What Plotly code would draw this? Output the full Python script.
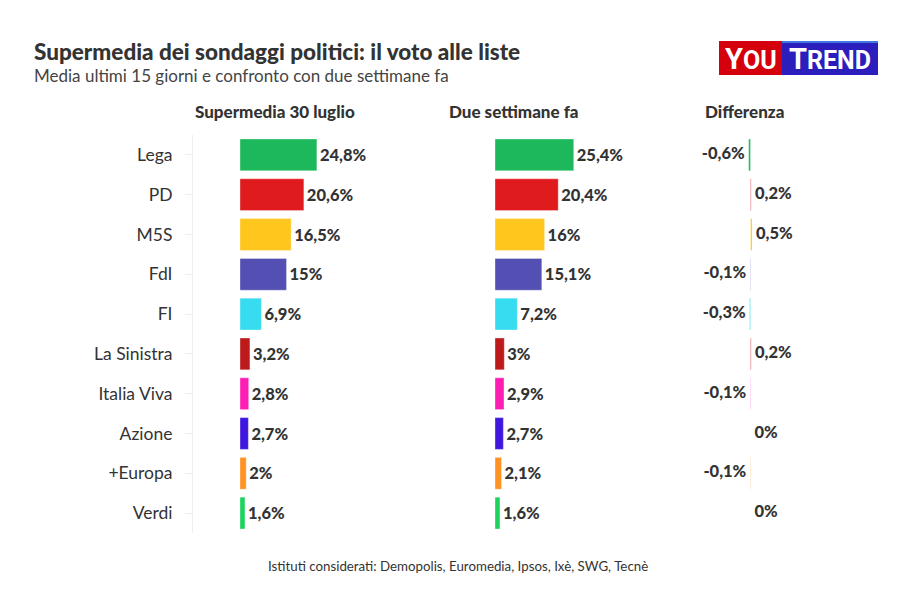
import plotly.graph_objects as go

# ---------------- data ----------------
parties = ["Lega", "PD", "M5S", "FdI", "FI", "La Sinistra", "Italia Viva",
           "Azione", "+Europa", "Verdi"]
supermedia_30_luglio = [24.8, 20.6, 16.5, 15.0, 6.9, 3.2, 2.8, 2.7, 2.0, 1.6]
due_settimane_fa = [25.4, 20.4, 16.0, 15.1, 7.2, 3.0, 2.9, 2.7, 2.1, 1.6]
differenza = [-0.6, 0.2, 0.5, -0.1, -0.3, 0.2, -0.1, 0.0, -0.1, 0.0]
party_colors = ["#1cb85b", "#df1b1e", "#ffc61e", "#5450b3", "#38dcf0",
                "#bd1a1b", "#ff1eb4", "#3f17df", "#ff9222", "#1dd35e"]

column_titles = ["Supermedia 30 luglio", "Due settimane fa", "Differenza"]
title = "Supermedia dei sondaggi politici: il voto alle liste"
subtitle = "Media ultimi 15 giorni e confronto con due settimane fa"
footer = "Istituti considerati: Demopolis, Euromedia, Ipsos, Ixè, SWG, Tecnè"

# ---------------- helpers ----------------
W, H = 900, 590
FONT = "Lato"
TXT = "#333333"
SCALE = 3.1  # px per percentage point


def fmt(v):
    return f"{v:g}".replace(".", ",") + "%"


def px(p):
    return p / W


def py(p):
    return 1 - p / H


def xrange_for(left, right, zero):
    return [(left - zero) / SCALE, (right - zero) / SCALE]


cols = [
    dict(left=193, right=433, zero=240),
    dict(left=448, right=688, zero=495),
    dict(left=700, right=890, zero=750.5),
]
ydom = [py(533), py(135)]

fig = go.Figure()

bar_line = dict(color="rgba(255,255,255,0.35)", width=1)
val_font = dict(family=FONT, size=16.5, color=TXT, weight=900)

fig.add_trace(go.Bar(
    y=parties, x=supermedia_30_luglio, orientation="h",
    marker=dict(color=party_colors, line=bar_line),
    text=[fmt(v) for v in supermedia_30_luglio], textposition="outside",
    textfont=val_font,
    cliponaxis=False, xaxis="x", yaxis="y", hoverinfo="skip",
))
fig.add_trace(go.Bar(
    y=parties, x=due_settimane_fa, orientation="h",
    marker=dict(color=party_colors, line=bar_line),
    text=[fmt(v) for v in due_settimane_fa], textposition="outside",
    textfont=val_font,
    cliponaxis=False, xaxis="x2", yaxis="y2", hoverinfo="skip",
))
fig.add_trace(go.Bar(
    y=parties, x=differenza, orientation="h",
    marker=dict(color=party_colors, line=bar_line),
    cliponaxis=False, xaxis="x3", yaxis="y3", hoverinfo="skip",
))
fig.add_trace(go.Scatter(
    y=parties, x=differenza, mode="text",
    text=[(fmt(v) + " ") if v < 0 else (" " + fmt(v)) for v in differenza],
    textposition=["middle left" if v < 0 else "middle right" for v in differenza],
    textfont=val_font,
    cliponaxis=False, xaxis="x3", yaxis="y3", hoverinfo="skip",
))

layout = dict(
    width=W, height=H,
    margin=dict(l=0, r=0, t=0, b=0),
    paper_bgcolor="white", plot_bgcolor="white",
    showlegend=False, bargap=0.2,
    font=dict(family=FONT, color=TXT),
)
for i, c in enumerate(cols):
    sfx = "" if i == 0 else str(i + 1)
    layout["xaxis" + sfx] = dict(
        domain=[px(c["left"]), px(c["right"])],
        range=xrange_for(c["left"], c["right"], c["zero"]),
        visible=False, fixedrange=True,
        anchor="y" + sfx,
    )
    layout["yaxis" + sfx] = dict(
        domain=ydom, range=[9.5, -0.5], type="category",
        anchor="x" + sfx, fixedrange=True,
        showgrid=False, zeroline=False,
        showline=(i == 0), linecolor="#eeeeee", linewidth=1,
        ticks="outside" if i == 0 else "", ticklen=7, tickcolor="#eeeeee",
        showticklabels=(i == 0),
        tickfont=dict(family=FONT, size=17.5, color=TXT),
        ticklabelstandoff=9,
    )
fig.update_layout(**layout)

ann = []
ann.append(dict(x=px(32), y=py(52), xref="paper", yref="paper",
                text=title, showarrow=False, xanchor="left", yanchor="middle",
                font=dict(family=FONT, size=22.5, color=TXT, weight=900)))
ann.append(dict(x=px(32), y=py(75), xref="paper", yref="paper",
                text=subtitle, showarrow=False, xanchor="left", yanchor="middle",
                font=dict(family=FONT, size=17, color="#444444")))
for t, cx in zip(column_titles, [274.5, 513.5, 744]):
    ann.append(dict(x=px(cx), y=py(111), xref="paper", yref="paper",
                    text=t, showarrow=False, xanchor="center", yanchor="middle",
                    font=dict(family=FONT, size=17, color=TXT, weight=900)))
ann.append(dict(x=px(458), y=py(566), xref="paper", yref="paper",
                text=footer, showarrow=False, xanchor="center", yanchor="middle",
                font=dict(family=FONT, size=13.3, color=TXT)))
# logo text
ann.append(dict(x=px(751), y=py(58.5), xref="paper", yref="paper",
                text="<span style='font-size:29px'>Y</span>OU", showarrow=False,
                xanchor="center", yanchor="middle",
                font=dict(family="Roboto", size=25, color="white", weight="bold")))
ann.append(dict(x=px(830), y=py(58.5), xref="paper", yref="paper",
                text="<span style='font-size:29px'>T</span>REND", showarrow=False,
                xanchor="center", yanchor="middle",
                font=dict(family="Roboto", size=25, color="white", weight="bold")))
fig.update_layout(annotations=ann)

shapes = [
    dict(type="rect", xref="paper", yref="paper", x0=px(719), x1=px(782),
         y0=py(75), y1=py(41), fillcolor="#d4000c", line=dict(width=0), layer="below"),
    dict(type="rect", xref="paper", yref="paper", x0=px(782), x1=px(878),
         y0=py(75), y1=py(41), fillcolor="#2c1ebc", line=dict(width=0), layer="below"),
    dict(type="rect", xref="paper", yref="paper", x0=px(782), x1=px(878),
         y0=py(43), y1=py(41), fillcolor="#3f78e0", line=dict(width=0), layer="below"),
]
fig.update_layout(shapes=shapes)

fig.write_html("out.html", config={"displayModeBar": False},
               post_script="document.body.style.margin='0';document.body.style.overflow='hidden';")
